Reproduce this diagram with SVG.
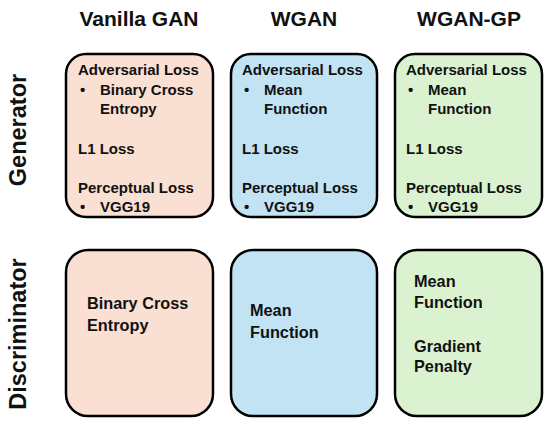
<svg xmlns="http://www.w3.org/2000/svg" width="550" height="428" viewBox="0 0 550 428">
<style>
.box{stroke:#000;stroke-width:2.5}
.peach{fill:#FAE0D2}
.blue{fill:#C2E3F4}
.green{fill:#DAF2D0}
text{font-family:"Liberation Sans",Arial,sans-serif;font-weight:bold;fill:#111}
.h{font-size:21px;text-anchor:middle}
.s{font-size:23.5px;text-anchor:middle}
.t{font-size:15px}
.b{font-size:16.3px}
</style>
<rect width="550" height="428" fill="#fff"/>
<g id="headers">
<text class="h" x="139" y="26">Vanilla GAN</text>
<text class="h" x="304" y="26">WGAN</text>
<text class="h" x="469" y="26">WGAN-GP</text>
<text class="s" transform="translate(26,130) rotate(-90)">Generator</text>
<text class="s" transform="translate(26,334) rotate(-90)">Discriminator</text>
</g>
<g id="gen-vanilla">
<rect class="box peach" x="66" y="54" width="147" height="163" rx="20"/>
<text class="t" x="78" y="75">Adversarial Loss</text>
<text class="t" x="80" y="95">•</text>
<text class="t" x="100" y="95">Binary Cross</text>
<text class="t" x="100" y="114">Entropy</text>
<text class="t" x="78" y="154">L1 Loss</text>
<text class="t" x="78" y="193">Perceptual Loss</text>
<text class="t" x="80" y="212">•</text>
<text class="t" x="100" y="212">VGG19</text>
</g>
<g id="gen-wgan">
<rect class="box blue" x="231" y="54" width="146" height="163" rx="20"/>
<text class="t" x="242" y="75">Adversarial Loss</text>
<text class="t" x="244" y="95">•</text>
<text class="t" x="264" y="95">Mean</text>
<text class="t" x="264" y="114">Function</text>
<text class="t" x="242" y="154">L1 Loss</text>
<text class="t" x="242" y="193">Perceptual Loss</text>
<text class="t" x="244" y="212">•</text>
<text class="t" x="264" y="212">VGG19</text>
</g>
<g id="gen-wgangp">
<rect class="box green" x="395" y="54" width="147" height="163" rx="20"/>
<text class="t" x="406" y="75">Adversarial Loss</text>
<text class="t" x="408" y="95">•</text>
<text class="t" x="428" y="95">Mean</text>
<text class="t" x="428" y="114">Function</text>
<text class="t" x="406" y="154">L1 Loss</text>
<text class="t" x="406" y="193">Perceptual Loss</text>
<text class="t" x="408" y="212">•</text>
<text class="t" x="428" y="212">VGG19</text>
</g>
<g id="disc-vanilla">
<rect class="box peach" x="66" y="250" width="147" height="166" rx="22"/>
<text class="b" x="87" y="309">Binary Cross</text>
<text class="b" x="87" y="331">Entropy</text>
</g>
<g id="disc-wgan">
<rect class="box blue" x="231" y="250" width="146" height="166" rx="22"/>
<text class="b" x="250" y="316">Mean</text>
<text class="b" x="250" y="338">Function</text>
</g>
<g id="disc-wgangp">
<rect class="box green" x="395" y="250" width="147" height="166" rx="22"/>
<text class="b" x="414" y="287">Mean</text>
<text class="b" x="414" y="308">Function</text>
<text class="b" x="414" y="352">Gradient</text>
<text class="b" x="414" y="372">Penalty</text>
</g>
<g id="connectors"/>
</svg>
